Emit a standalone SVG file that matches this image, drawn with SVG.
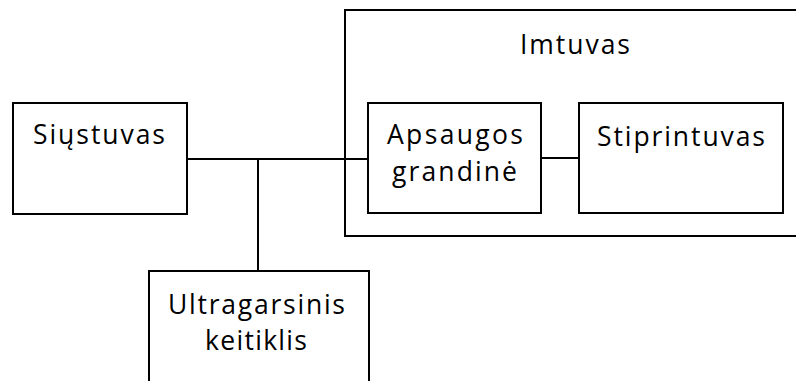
<svg xmlns="http://www.w3.org/2000/svg" width="796" height="381" viewBox="0 0 796 381">
<style>
.box{fill:#fff;stroke:#000;stroke-width:2}
.frame{fill:none;stroke:#000;stroke-width:2}
.wire{fill:none;stroke:#000;stroke-width:2}
text{font-family:"Open Sans","Noto Sans",sans-serif;font-size:26.5px;fill:#000}
</style>
<rect width="796" height="381" fill="#fff"/>
<g id="imtuvas">
<path class="frame" d="M797 10 H345 V236 H797"/>
<text x="520" y="54" textLength="110" lengthAdjust="spacing">Imtuvas</text>
</g>
<g id="connectors">
<path class="wire" d="M187 159 H368"/>
<path class="wire" d="M258 159 V271"/>
<path class="wire" d="M541 158 H579"/>
</g>
<g id="siustuvas">
<rect class="box" x="13" y="103" width="174" height="111"/>
<text x="33" y="144" textLength="132" lengthAdjust="spacing">Siųstuvas</text>
</g>
<g id="ultragarsinis">
<rect class="box" x="149" y="271" width="220" height="120"/>
<text x="168" y="314" textLength="177" lengthAdjust="spacing">Ultragarsinis</text>
<text x="205" y="350" textLength="102" lengthAdjust="spacing">keitiklis</text>
</g>
<g id="apsaugos">
<rect class="box" x="368" y="103" width="173" height="110"/>
<text x="387" y="144" textLength="136" lengthAdjust="spacing">Apsaugos</text>
<text x="392" y="181" textLength="125" lengthAdjust="spacing">grandinė</text>
</g>
<g id="stiprintuvas">
<rect class="box" x="579" y="103" width="204" height="110"/>
<text x="597" y="146" textLength="168" lengthAdjust="spacing">Stiprintuvas</text>
</g>
</svg>
